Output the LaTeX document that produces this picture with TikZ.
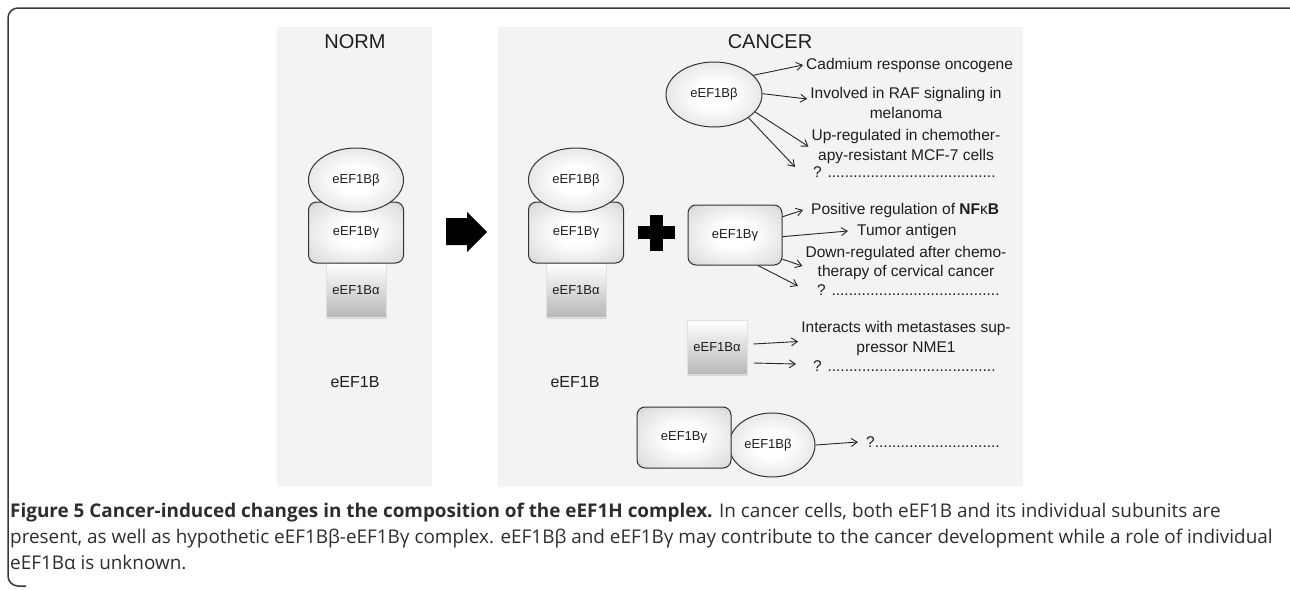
\documentclass[tikz,border=0pt]{standalone}
\usepackage{fontspec}
\setmainfont{Liberation Sans}
\newfontfamily\capfont{Open Sans}
\usetikzlibrary{shapes.geometric,arrows.meta,shadows}
\definecolor{framegray}{RGB}{55,55,55}
\definecolor{panelgray}{RGB}{243,243,243}
\definecolor{inkgray}{RGB}{30,30,30}
\definecolor{capgray}{RGB}{45,45,45}
\pgfdeclareradialshading{glow}{\pgfpoint{0bp}{0bp}}{color(0bp)=(white); color(10bp)=(white); color(30bp)=(black!12); color(50bp)=(black!42); color(75bp)=(black!42)}

\tikzset{
    subbeta/.style={ellipse, draw=black!80, line width=1pt, shade, shading=glow,
        minimum width=95pt, minimum height=64pt, inner sep=0pt,
        font=\fontsize{13}{15}\selectfont, text=inkgray},
    subgamma/.style={rectangle, rounded corners=8pt, draw=black!80, line width=1pt,
        shade, shading=glow, minimum width=95pt, minimum height=61pt, inner sep=0pt,
        font=\fontsize{13}{15}\selectfont, text=inkgray},
    subalpha/.style={rectangle, draw=black!12, line width=1pt, top color=white,
        bottom color=black!28, minimum width=60pt, minimum height=54pt, inner sep=0pt,
        drop shadow={shadow xshift=1pt, shadow yshift=-2pt, opacity=0.25},
        font=\fontsize{13}{15}\selectfont, text=inkgray},
    effect/.style={font=\fontsize{15.5}{19.5}\selectfont, align=center,
        inner sep=3pt, text=inkgray},
    heading/.style={font=\fontsize{20}{24}\selectfont, text=inkgray, inner sep=0pt},
    cplx/.style={font=\fontsize{16}{19}\selectfont, text=inkgray, inner sep=0pt},
    link/.style={-{Straight Barb[length=6pt,width=8pt]}, line width=0.9pt, black!85},
    capline/.style={font=\capfont\fontsize{18.9}{22}\selectfont, text=capgray,
        inner sep=0pt, anchor=base west},
}

\begin{document}
\begin{tikzpicture}[x=1pt, y=-1pt]
    \useasboundingbox (0,0) rectangle (1290,589);
    % Frame
    \draw[framegray, line width=1.5pt, rounded corners=10pt]
        (26,586) -- (8,586) -- (8,8) -- (1290,8);

    % Panels
    \fill[panelgray, drop shadow={shadow xshift=0pt, shadow yshift=-2pt, opacity=0.08}]
        (277,27) rectangle (432,485);
    \fill[panelgray, drop shadow={shadow xshift=0pt, shadow yshift=-2pt, opacity=0.08}]
        (498,27) rectangle (1023,485);
    \node[heading] (NormTitle) at (355,42) {NORM};
    \node[heading] (CancerTitle) at (770,42) {CANCER};

    % Normal cell complex
    \begin{scope}
        \node[subalpha] (NormAlpha) at (356,290) {eEF1Bα};
        \node[subgamma] (NormGamma) at (356,232.5) {eEF1Bγ};
        \node[subbeta] (NormBeta) at (356,180) {eEF1Bβ};
        \node[cplx] (NormLabel) at (355,382) {eEF1B};
    \end{scope}

    % Transition arrow
    \fill[black] (446,218) -- (467,218) -- (467,212) -- (487,232)
        -- (467,252) -- (467,245) -- (446,245) -- cycle;

    % Cancer cell complex
    \begin{scope}[xshift=220pt]
        \node[subalpha] (CancAlpha) at (356,290) {eEF1Bα};
        \node[subgamma] (CancGamma) at (356,232.5) {eEF1Bγ};
        \node[subbeta] (CancBeta) at (356,180) {eEF1Bβ};
        \node[cplx] (CancLabel) at (355,382) {eEF1B};
    \end{scope}

    % Plus sign
    \fill[black] (650,215) rectangle (663,251);
    \fill[black] (638,226) rectangle (675,239);

    % Free eEF1Bbeta
    \node[subbeta, minimum width=96pt, minimum height=65pt] (BetaFree) at (714,94.5) {eEF1Bβ};
    \node[effect, anchor=west] (BetaFx1) at (803,65) {Cadmium response oncogene};
    \node[effect] (BetaFx2) at (906,103) {Involved in RAF signaling in\\melanoma};
    \node[effect] (BetaFx3) at (906,146.5) {Up-regulated in chemother-\\apy-resistant MCF-7 cells};
    \node[effect, anchor=west] (BetaQ) at (810,172) {? .......................................};
    \draw[link] (BetaFree.26) -- (BetaFx1.west);
    \draw[link] (BetaFree.1) -- ([yshift=4pt]BetaFx2.west);
    \draw[link] (BetaFree.-23) -- (BetaFx3.west);
    \draw[link] (BetaFree.-34) -- ([xshift=-15pt,yshift=5pt]BetaQ.west);

    % Free eEF1Bgamma
    \node[subgamma, minimum width=94pt, minimum height=60pt] (GammaFree) at (735,235) {eEF1Bγ};
    \node[effect, anchor=west] (GammaFx1) at (808,210) {Positive regulation of \textbf{NF}κ\textbf{B}};
    \node[effect, anchor=west] (GammaFx2) at (854,231) {Tumor antigen};
    \node[effect] (GammaFx3) at (906,263) {Down-regulated after chemo-\\therapy of cervical cancer};
    \node[effect, anchor=west] (GammaQ) at (814,290) {? .......................................};
    \draw[link] (GammaFree.21) -- ([xshift=-5pt]GammaFx1.west);
    \draw[link] (GammaFree.-2) -- ([xshift=-6pt]GammaFx2.west);
    \draw[link] (GammaFree.-27) -- ([yshift=-3pt]GammaFx3.west);
    \draw[link] (GammaFree.-53) -- ([xshift=-16pt,yshift=4pt]GammaQ.west);

    % Free eEF1Balpha
    \node[subalpha] (AlphaFree) at (717,347) {eEF1Bα};
    \node[effect] (AlphaFx1) at (906,338.5) {Interacts with metastases sup-\\pressor NME1};
    \node[effect, anchor=west] (AlphaQ) at (810,366) {? .......................................};
    \draw[link] ([xshift=6pt,yshift=3pt]AlphaFree.east) -- ([yshift=-3pt]AlphaFx1.west);
    \draw[link] ([xshift=6pt,yshift=-16pt]AlphaFree.east) -- ([xshift=-14pt,yshift=2pt]AlphaQ.west);

    % Hypothetic beta-gamma pair
    \node[subbeta, minimum width=86pt] (PairBeta) at (772,445) {\hspace*{-8pt}eEF1Bβ};
    \node[subgamma, minimum width=94pt] (PairGamma) at (684,437.5) {eEF1Bγ};
    \node[effect, anchor=west] (PairQ) at (863,442) {?.............................};
    \draw[link] (PairBeta.east) -- ([xshift=-5pt]PairQ.west);

    % Caption
    \node[capline] (Cap1) at (10,517) {\textbf{Figure 5 Cancer-induced changes in the composition of the eEF1H complex.} In cancer cells, both eEF1B and its individual subunits are};
    \node[capline] (Cap2) at (10,543) {present, as well as hypothetic eEF1Bβ-eEF1Bγ complex. eEF1Bβ and eEF1Bγ may contribute to the cancer development while a role of individual};
    \node[capline] (Cap3) at (10,569) {eEF1Bα is unknown.};
\end{tikzpicture}
\end{document}
